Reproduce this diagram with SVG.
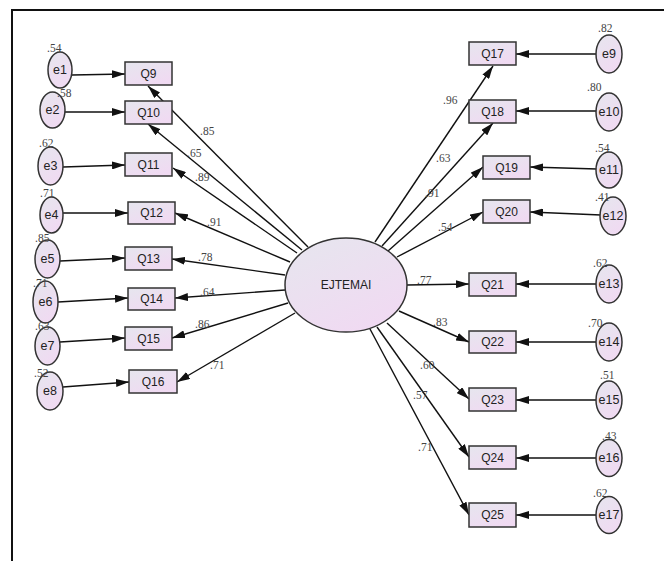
<svg xmlns="http://www.w3.org/2000/svg" width="664" height="561" viewBox="0 0 664 561">
<defs>
<linearGradient id="fill" x1="0" y1="0" x2="0.6" y2="1">
<stop offset="0" stop-color="#e6e6ee"/>
<stop offset="1" stop-color="#f0daf2"/>
</linearGradient>
<marker id="arr" markerUnits="userSpaceOnUse" markerWidth="13" markerHeight="8" refX="13" refY="4" orient="auto">
<path d="M0,0 L13,4 L0,8 z" fill="#111"/>
</marker>
<style>
.n ellipse,.n rect{fill:url(#fill);stroke:#333;stroke-width:1.5}
.t{font-family:"Liberation Sans",Arial,sans-serif;font-size:12px;fill:#222;text-anchor:middle;dominant-baseline:central}
.e{font-size:12.5px}
.v{font-family:"Liberation Serif","Times New Roman",serif;font-size:11.5px;fill:#444}
#edges line{stroke:#111;stroke-width:1.4;marker-end:url(#arr)}
</style>
</defs>
<rect width="664" height="561" fill="#fff"/>
<path d="M12,561 V10 H664" fill="none" stroke="#111" stroke-width="2"/>

<g id="edges">
<line x1="72" y1="75" x2="125" y2="74"/>
<line x1="65" y1="112" x2="125" y2="112"/>
<line x1="63" y1="167" x2="125" y2="165"/>
<line x1="63" y1="213" x2="128" y2="213"/>
<line x1="60" y1="261" x2="125" y2="258"/>
<line x1="58" y1="302" x2="128" y2="298"/>
<line x1="60" y1="342" x2="125" y2="338"/>
<line x1="63" y1="387" x2="129" y2="382"/>
<line x1="308" y1="247" x2="148" y2="86"/>
<line x1="302" y1="250" x2="148" y2="124"/>
<line x1="297" y1="253" x2="173" y2="168"/>
<line x1="290" y1="262" x2="175" y2="213"/>
<line x1="285" y1="275" x2="172" y2="259"/>
<line x1="285" y1="290" x2="175" y2="298"/>
<line x1="288" y1="303" x2="172" y2="338"/>
<line x1="295" y1="313" x2="177" y2="382"/>
<line x1="375" y1="242" x2="493" y2="66"/>
<line x1="382" y1="246" x2="493" y2="123"/>
<line x1="388" y1="251" x2="483" y2="167"/>
<line x1="397" y1="257" x2="483" y2="212"/>
<line x1="407" y1="285" x2="469" y2="284"/>
<line x1="399" y1="311" x2="469" y2="342"/>
<line x1="387" y1="323" x2="469" y2="399"/>
<line x1="377" y1="327" x2="469" y2="457"/>
<line x1="370" y1="329" x2="469" y2="515"/>
<line x1="597" y1="54" x2="516" y2="54"/>
<line x1="597" y1="111" x2="516" y2="111"/>
<line x1="597" y1="169" x2="530" y2="167"/>
<line x1="601" y1="215" x2="530" y2="212"/>
<line x1="597" y1="284" x2="516" y2="284"/>
<line x1="597" y1="342" x2="516" y2="342"/>
<line x1="597" y1="400" x2="516" y2="400"/>
<line x1="597" y1="458" x2="516" y2="458"/>
<line x1="597" y1="515" x2="516" y2="515"/>
</g>

<g id="labels-edges" class="v">
<text x="200" y="135">.85</text>
<text x="187" y="157">.65</text>
<text x="195" y="181">.89</text>
<text x="207" y="226">.91</text>
<text x="198" y="261">.78</text>
<text x="200" y="296">.64</text>
<text x="195" y="328">.86</text>
<text x="210" y="369">.71</text>
<text x="443" y="104">.96</text>
<text x="436" y="162">.63</text>
<text x="425" y="197">.91</text>
<text x="438" y="231">.54</text>
<text x="417" y="284">.77</text>
<text x="433" y="326">.83</text>
<text x="420" y="369">.60</text>
<text x="413" y="399">.57</text>
<text x="418" y="451">.71</text>
</g>

<g id="EJTEMAI" class="n"><ellipse cx="346" cy="285" rx="61" ry="47"/><text class="t" x="346" y="285">EJTEMAI</text></g>

<g id="Q9" class="n"><rect x="125" y="62" width="47" height="23"/><text class="t" x="148.5" y="73.5">Q9</text></g>
<g id="Q10" class="n"><rect x="125" y="101" width="47" height="23"/><text class="t" x="148.5" y="112.5">Q10</text></g>
<g id="Q11" class="n"><rect x="125" y="153" width="47" height="23"/><text class="t" x="148.5" y="164.5">Q11</text></g>
<g id="Q12" class="n"><rect x="128" y="202" width="47" height="22"/><text class="t" x="151.5" y="213">Q12</text></g>
<g id="Q13" class="n"><rect x="125" y="247" width="47" height="23"/><text class="t" x="148.5" y="258.5">Q13</text></g>
<g id="Q14" class="n"><rect x="128" y="288" width="47" height="22"/><text class="t" x="151.5" y="299">Q14</text></g>
<g id="Q15" class="n"><rect x="125" y="327" width="47" height="23"/><text class="t" x="148.5" y="338.5">Q15</text></g>
<g id="Q16" class="n"><rect x="129" y="370" width="48" height="23"/><text class="t" x="153" y="381.5">Q16</text></g>

<g id="Q17" class="n"><rect x="469" y="42" width="47" height="23"/><text class="t" x="492.5" y="53.5">Q17</text></g>
<g id="Q18" class="n"><rect x="469" y="100" width="47" height="23"/><text class="t" x="492.5" y="111.5">Q18</text></g>
<g id="Q19" class="n"><rect x="483" y="156" width="47" height="23"/><text class="t" x="506.5" y="167.5">Q19</text></g>
<g id="Q20" class="n"><rect x="483" y="200" width="47" height="23"/><text class="t" x="506.5" y="211.5">Q20</text></g>
<g id="Q21" class="n"><rect x="469" y="273" width="47" height="23"/><text class="t" x="492.5" y="284.5">Q21</text></g>
<g id="Q22" class="n"><rect x="469" y="331" width="47" height="22"/><text class="t" x="492.5" y="342">Q22</text></g>
<g id="Q23" class="n"><rect x="469" y="388" width="47" height="23"/><text class="t" x="492.5" y="399.5">Q23</text></g>
<g id="Q24" class="n"><rect x="469" y="446" width="47" height="23"/><text class="t" x="492.5" y="457.5">Q24</text></g>
<g id="Q25" class="n"><rect x="469" y="503" width="47" height="24"/><text class="t" x="492.5" y="515">Q25</text></g>

<g id="e1" class="n"><ellipse cx="60" cy="70" rx="12" ry="18"/><text class="t e" x="60" y="70">e1</text></g>
<g id="e2" class="n"><ellipse cx="52.5" cy="110" rx="12.5" ry="18"/><text class="t e" x="52.5" y="110">e2</text></g>
<g id="e3" class="n"><ellipse cx="50.5" cy="166" rx="12.5" ry="19"/><text class="t e" x="50.5" y="166">e3</text></g>
<g id="e4" class="n"><ellipse cx="51.5" cy="215" rx="11.5" ry="18"/><text class="t e" x="51.5" y="215">e4</text></g>
<g id="e5" class="n"><ellipse cx="47.5" cy="259" rx="12.5" ry="19"/><text class="t e" x="47.5" y="259">e5</text></g>
<g id="e6" class="n"><ellipse cx="45.5" cy="302" rx="12.5" ry="21"/><text class="t e" x="45.5" y="302">e6</text></g>
<g id="e7" class="n"><ellipse cx="47.5" cy="346" rx="12.5" ry="19"/><text class="t e" x="47.5" y="346">e7</text></g>
<g id="e8" class="n"><ellipse cx="50" cy="391" rx="13" ry="19"/><text class="t e" x="50" y="391">e8</text></g>

<g id="e9" class="n"><ellipse cx="609" cy="54" rx="13" ry="19"/><text class="t e" x="609" y="54">e9</text></g>
<g id="e10" class="n"><ellipse cx="609" cy="112" rx="13" ry="19"/><text class="t e" x="609" y="112">e10</text></g>
<g id="e11" class="n"><ellipse cx="609" cy="170" rx="13" ry="18"/><text class="t e" x="609" y="170">e11</text></g>
<g id="e12" class="n"><ellipse cx="613" cy="216" rx="13" ry="19"/><text class="t e" x="613" y="216">e12</text></g>
<g id="e13" class="n"><ellipse cx="609" cy="284" rx="13" ry="19"/><text class="t e" x="609" y="284">e13</text></g>
<g id="e14" class="n"><ellipse cx="609" cy="342" rx="13" ry="19"/><text class="t e" x="609" y="342">e14</text></g>
<g id="e15" class="n"><ellipse cx="609" cy="400" rx="13" ry="19"/><text class="t e" x="609" y="400">e15</text></g>
<g id="e16" class="n"><ellipse cx="609" cy="458" rx="13" ry="18.5"/><text class="t e" x="609" y="458">e16</text></g>
<g id="e17" class="n"><ellipse cx="609" cy="515" rx="13" ry="18.5"/><text class="t e" x="609" y="515">e17</text></g>

<g id="labels-var" class="v">
<text x="47" y="52">.54</text>
<text x="57" y="97">.58</text>
<text x="39" y="147">.62</text>
<text x="40" y="197">.71</text>
<text x="35" y="242">.85</text>
<text x="33" y="287">.71</text>
<text x="35" y="330">.63</text>
<text x="34" y="377">.52</text>
<text x="598" y="32">.82</text>
<text x="587" y="91">.80</text>
<text x="595" y="152">.54</text>
<text x="595" y="201">.41</text>
<text x="593" y="267">.62</text>
<text x="588" y="327">.70</text>
<text x="600" y="379">.51</text>
<text x="602" y="440">.43</text>
<text x="593" y="497">.62</text>
</g>
</svg>
